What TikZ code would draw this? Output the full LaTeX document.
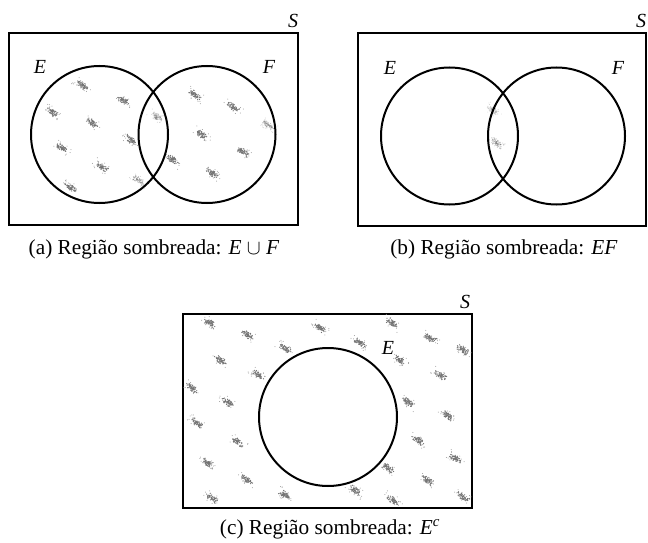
\documentclass[tikz,border=0pt]{standalone}
\usepackage{fontspec}
\setmainfont{Liberation Serif}
\begin{document}
\begin{tikzpicture}[x=1pt,y=-1pt,
  frame/.style={draw=black,line width=1.4pt},
  venn/.style={circle,draw=black,line width=2pt,minimum size=137pt,inner sep=0pt},
  lbl/.style={font=\fontsize{20}{20}\selectfont\itshape,inner sep=0pt},
  captext/.style={font=\fontsize{21.3}{22}\selectfont,inner sep=0pt}]
\useasboundingbox (0,0) rectangle (648,543);
\pgfmathsetseed{7}
\newcommand{\speck}[3]{%
  \foreach \k in {1,...,60}{%
    \pgfmathsetmacro{\ta}{(rand+rand)*3.6}%
    \pgfmathsetmacro{\tb}{(rand+rand)*1.7}%
    \fill[black!55,opacity=#3] ({#1+0.82*\ta-0.57*\tb},{#2+0.57*\ta+0.82*\tb}) circle (0.65);
  }%
  \foreach \k in {1,...,12}{%
    \pgfmathsetmacro{\ta}{rand*10}%
    \pgfmathsetmacro{\tb}{rand*5}%
    \fill[black!40,opacity=#3] ({#1+0.82*\ta-0.57*\tb},{#2+0.57*\ta+0.82*\tb}) circle (0.5);
  }}
% ---------- (a)
\draw[frame] (9,33) rectangle (298,225);
\foreach \p/\q in {82/85,123/100,52/112,92/123,131/140,62/148,102/167,70/187,
                   195/95,233/107,202/135,243/152,173/160,212/173}{\speck{\p}{\q}{1}}
\foreach \p/\q in {138/180,157/117,268/125}{\speck{\p}{\q}{0.45}}
\node[venn] (Ea) at (99.5,134.5) {};
\node[venn] (Fa) at (207,134.5) {};
\node[lbl] (Sa) at (293,21) {S};
\node[lbl] (Ela) at (40,67) {E};
\node[lbl] (Fla) at (269,67) {F};
\node[captext] (capa) at (154,249) {(a) Região sombreada: \textit{E} $\cup$ \textit{F}};
% ---------- (b)
\draw[frame] (358,33) rectangle (646,226);
\speck{497}{143}{0.45}
\speck{493}{110}{0.3}
\node[venn] (Eb) at (449.5,136) {};
\node[venn] (Fb) at (556.5,136) {};
\node[lbl] (Sb) at (641,21) {S};
\node[lbl] (Elb) at (390,68) {E};
\node[lbl] (Flb) at (618,68) {F};
\node[captext] (capb) at (504,249) {(b) Região sombreada: \textit{EF}};
% ---------- (c)
\draw[frame] (183,314) rectangle (472,508);
\foreach \p/\q in {210/323,248/335,285/348,320/328,360/343,392/323,430/338,463/350,
  220/360,258/375,400/360,440/375,192/388,228/402,408/402,447/415,197/423,238/442,
  418/440,455/458,208/463,247/480,285/495,355/490,388/468,427/480,463/497,393/500,212/498}{\speck{\p}{\q}{1}}
\node[venn,minimum size=138pt] (Ec) at (328,417) {};
\node[lbl] (Sc) at (465,302) {S};
\node[lbl] (Elc) at (388,348) {E};
\node[captext] (capc) at (330,529) {(c) Região sombreada: \textit{E}\textsuperscript{\textit{c}}};
\end{tikzpicture}
\end{document}
